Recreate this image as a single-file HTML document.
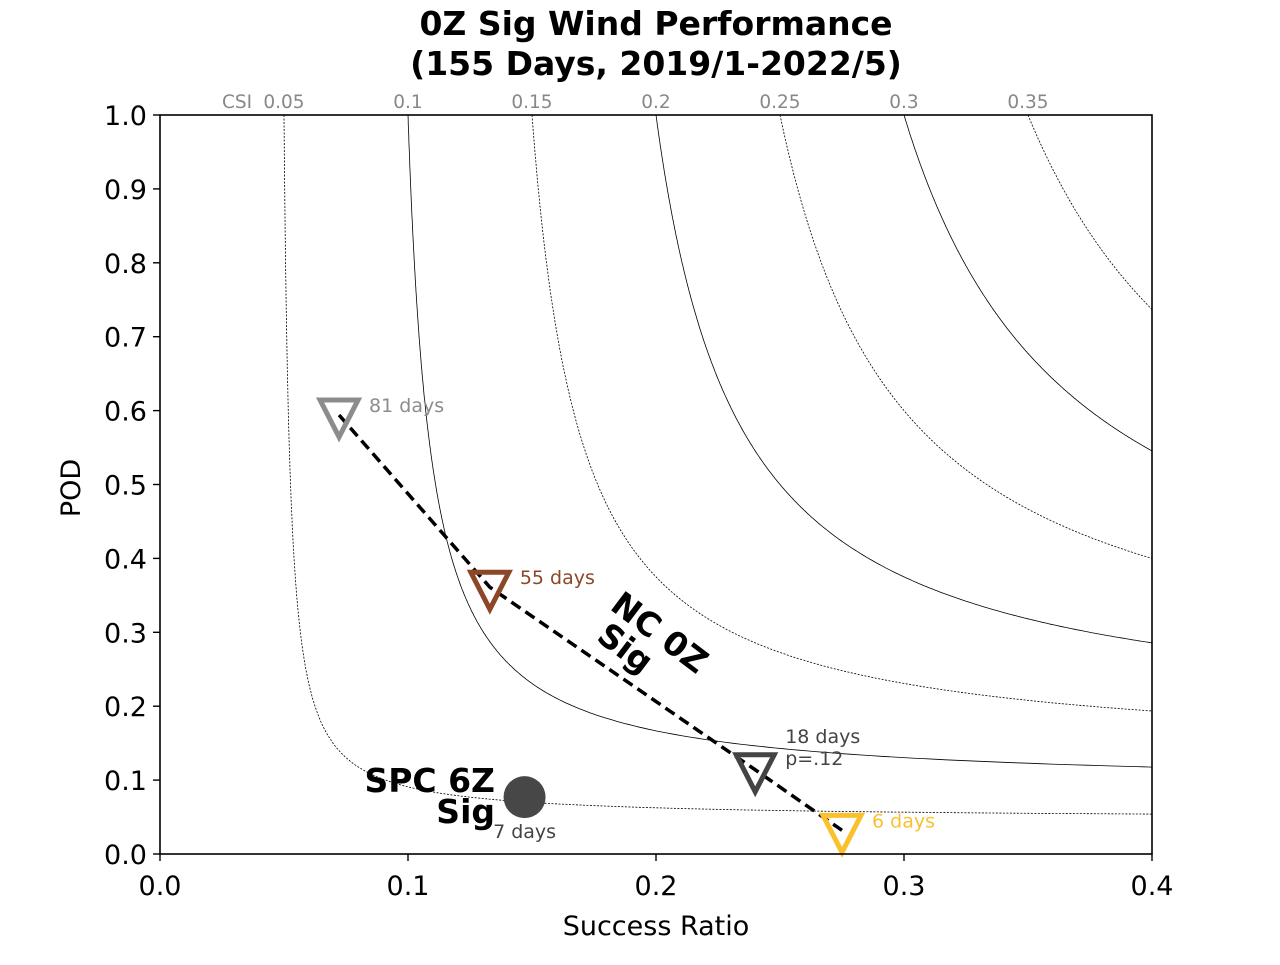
<!DOCTYPE html>
<html><head><meta charset="utf-8"><style>body{margin:0;background:#fff}svg{font-family:"DejaVu Sans","Liberation Sans",sans-serif}</style></head>
<body>
<svg id="chart" width="1280" height="960" viewBox="0 0 1280 960">
<text x="656" y="35" text-anchor="middle" font-size="33" font-weight="bold">0Z Sig Wind Performance</text>
<text x="656" y="75" text-anchor="middle" font-size="33" font-weight="bold">(155 Days, 2019/1-2022/5)</text>
<g id="curves"></g>
<g id="ticks"></g>
<g id="marks"></g>
<rect x="160" y="115" width="992" height="739" fill="none" stroke="#000" stroke-width="1.6"/>
<text x="656" y="935" text-anchor="middle" font-size="27">Success Ratio</text>
<text transform="translate(80,488) rotate(-90)" text-anchor="middle" font-size="27">POD</text>
<text x="237" y="108" text-anchor="middle" font-size="18.5" fill="#888">CSI</text>
</svg>
<script>
const csiLevels=[0.05,0.1,0.15,0.2,0.25,0.3,0.35];
const xTicks=[0.0,0.1,0.2,0.3,0.4];
const yTicks=[0.0,0.1,0.2,0.3,0.4,0.5,0.6,0.7,0.8,0.9,1.0];
const ptSR=[0.0722,0.133,0.240,0.275];
const ptPOD=[0.594,0.361,0.114,0.032];
const ptLabels=["81 days","55 days","18 days","6 days"];
const ptColors=["#8c8c8c","#8b4726","#444444","#fbc02d"];
const spcSR=[0.147];
const spcPOD=[0.077];
const NS="http://www.w3.org/2000/svg";
const X=v=>160+v/0.4*992, Y=v=>854-v*739;
function mk(t,a,p){const e=document.createElementNS(NS,t);for(const k in a)e.setAttribute(k,a[k]);p.appendChild(e);return e;}
const cg=document.getElementById('curves'),tg=document.getElementById('ticks'),mg=document.getElementById('marks');
csiLevels.forEach((c,i)=>{
 const pmin=1/(1/c+1-1/0.4);
 let pts=[];
 for(let k=0;k<=400;k++){const p=pmin+(1-pmin)*Math.pow(k/400,1.5);const s=1/(1/c+1-1/p);if(s>0&&s<=0.4001)pts.push([s,p]);}
 pts.sort((a,b)=>a[0]-b[0]);
 let d="";pts.forEach((q,j)=>{d+=(j?"L":"M")+X(q[0]).toFixed(1)+","+Y(q[1]).toFixed(1);});
 const e=mk('path',{d:d,fill:'none',stroke:'#000','stroke-width':0.8,'stroke-dasharray':i%2==0?'2,1.5':'none'},cg);
 
 
 const t=mk('text',{x:X(c),y:108,'text-anchor':'middle','font-size':18.5,fill:'#888'},cg);t.textContent=String(c);
 
 
});
xTicks.forEach(v=>{mk('line',{x1:X(v),x2:X(v),y1:854,y2:861,stroke:'#000','stroke-width':1.4},tg);
 const t=mk('text',{x:X(v),y:895,'text-anchor':'middle','font-size':27},tg);t.textContent=v.toFixed(1);
 
 });
yTicks.forEach(v=>{mk('line',{x1:153,x2:160,y1:Y(v),y2:Y(v),stroke:'#000','stroke-width':1.4},tg);
 const t=mk('text',{x:147,y:Y(v)+10,'text-anchor':'end','font-size':27},tg);t.textContent=v.toFixed(1);
 
 });
let d="";ptSR.forEach((s,i)=>{d+=(i?"L":"M")+X(s)+","+Y(ptPOD[i]);});
const ln=mk('path',{d:d,fill:'none',stroke:'#000','stroke-width':3.5,'stroke-dasharray':'11,6'},mg);


ptSR.forEach((s,i)=>{const x=X(s),y=Y(ptPOD[i]);
 const p=mk('polygon',{points:`${x-19},${y-15} ${x+19},${y-15} ${x},${y+22}`,fill:'none',stroke:ptColors[i],'stroke-width':5,'stroke-linejoin':'miter'},mg);
 
 
 if(i==2){const t=mk('text',{x:x+30,y:y-27,'font-size':19,fill:ptColors[i]},mg);t.textContent=ptLabels[i];
  
  const t2=mk('text',{x:x+30,y:y-5,'font-size':19,fill:ptColors[i]},mg);t2.textContent="p=.12";
  }
 else{const t=mk('text',{x:x+30,y:y-3,'font-size':19,fill:ptColors[i]},mg);t.textContent=ptLabels[i];
  }
});
spcSR.forEach((s,i)=>{const c=mk('circle',{cx:X(s),cy:Y(spcPOD[i]),r:21,fill:'#474747'},mg);
 
 
 const t=mk('text',{x:X(s),y:Y(spcPOD[i])+41,'text-anchor':'middle','font-size':19,fill:'#444'},mg);t.textContent="7 days";
 });
const a=mk('text',{x:495,y:792,'text-anchor':'end','font-size':33,'font-weight':'bold'},mg);a.textContent="SPC 6Z";

const b=mk('text',{x:495,y:823,'text-anchor':'end','font-size':33,'font-weight':'bold'},mg);b.textContent="Sig";

const g=mk('g',{transform:'translate(648,648) rotate(37)'},mg);

const n1=mk('text',{x:0,y:-8,'text-anchor':'middle','font-size':33,'font-weight':'bold'},g);n1.textContent="NC 0Z";
const n2=mk('text',{x:-18,y:25,'text-anchor':'middle','font-size':33,'font-weight':'bold'},g);n2.textContent="Sig";
</script>
</body></html>
